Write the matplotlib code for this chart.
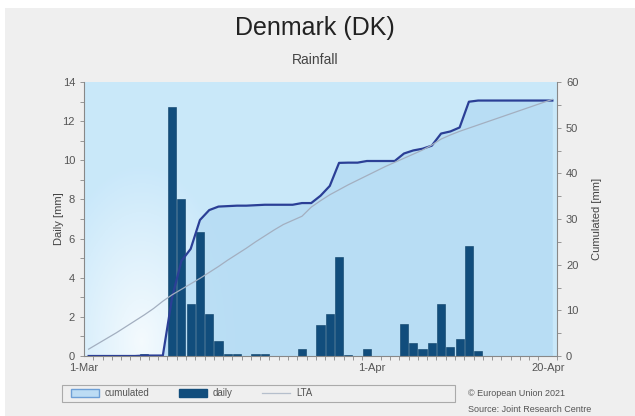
import numpy as np
import matplotlib.pyplot as plt
from matplotlib.patches import Patch, Rectangle
from matplotlib.lines import Line2D

plt.rcParams['font.family'] = ['Liberation Sans', 'DejaVu Sans']

# daily rainfall, 1-Mar .. 20-Apr (mm)
daily = [0, 0, 0, 0, 0, 0, 0.1, 0, 0, 12.7,
         8.0, 2.65, 6.33, 2.17, 0.77, 0.1, 0.1, 0, 0.1, 0.1,
         0, 0, 0, 0.37, 0, 1.6, 2.15, 5.05, 0.05, 0,
         0.36, 0, 0, 0, 1.64, 0.67, 0.38, 0.67, 2.65, 0.46,
         0.87, 5.64, 0.26, 0, 0, 0, 0, 0, 0, 0,
         0]
# long term average, cumulated (mm)
lta = [1.5, 2.7, 3.9, 5.1, 6.4, 7.7, 9.0, 10.4, 12.0, 13.4,
       14.6, 15.8, 17.0, 18.3, 19.6, 21.0, 22.3, 23.6, 25.0, 26.3,
       27.6, 28.8, 29.7, 30.6, 32.6, 34.0, 35.3, 36.4, 37.5, 38.5,
       39.5, 40.5, 41.5, 42.4, 43.3, 44.2, 45.1, 46.2, 47.5, 48.4,
       49.2, 49.9, 50.6, 51.3, 52.0, 52.7, 53.4, 54.1, 54.8, 55.5,
       56.2]
tick_days = [0, 31, 50]
tick_labels = ['1-Mar', '1-Apr', '20-Apr']

days = np.arange(len(daily))
xc = days + 0.5
cumulated = np.cumsum(daily)

fig = plt.figure(figsize=(6.35, 4.16), dpi=100)
fig.patch.set_facecolor('white')
fig.patches.append(Rectangle((5 / 635, 0), 1, 1 - 8 / 416, transform=fig.transFigure,
                             facecolor='#efefef', edgecolor='none', zorder=-10))

rect = [84 / 635, 1 - 356 / 416, (557 - 84) / 635, (356 - 82) / 416]
axb = fig.add_axes(rect)   # background + cumulated fill
ax = fig.add_axes(rect)    # daily bars
axl = fig.add_axes(rect)   # lines + right axis
axb.set_zorder(1)
ax.set_zorder(2)
axl.set_zorder(3)
ax.patch.set_visible(False)
axl.patch.set_visible(False)

xmax = 51
# background gradient: whitish bottom-left, light blue elsewhere
gx, gy = np.meshgrid(np.linspace(0, 1, 200), np.linspace(0, 1, 200))
w = np.clip(1 - np.sqrt(((gx - 0.12) / 0.2) ** 2 + ((gy - 0.05) / 0.65) ** 2), 0, 1) * 0.8
blue = np.array([0.79, 0.91, 0.98])
img = blue[None, None, :] * (1 - w[..., None]) + np.array([1, 1, 1])[None, None, :] * w[..., None]
axb.imshow(img, extent=[0, xmax, 0, 60], origin='lower', aspect='auto', zorder=0)
axb.fill_between(xc, 0, cumulated, color='#b6dcf4', alpha=0.85, lw=0, zorder=1)
axb.set_xlim(0, xmax)
axb.set_ylim(0, 60)
axb.axis('off')

ax.bar(xc, daily, width=0.88, color='#114d7c', edgecolor='#0b3e66', lw=0.4)
ax.set_xlim(0, xmax)
ax.set_ylim(0, 14)
ax.set_yticks(range(0, 15, 2))
ax.set_yticks(range(0, 15), minor=True)
ax.set_xticks(tick_days)
ax.set_xticklabels(tick_labels)
ax.set_xticks(range(0, xmax + 1), minor=True)
ax.set_ylabel('Daily [mm]', fontsize=8, color='#444444', labelpad=-1)
for s in ['top', 'right']:
    ax.spines[s].set_visible(False)
for s in ['left', 'bottom']:
    ax.spines[s].set_color('#888888')
ax.tick_params(axis='both', which='both', colors='#888888', labelcolor='#555555',
               labelsize=8, length=3, width=0.6)
ax.tick_params(axis='x', which='major', length=0, pad=5)

axl.plot(xc, cumulated, color='#2b3f96', lw=1.6, zorder=3)
axl.plot(xc, lta, color='#a3afc0', lw=0.9, zorder=4)
axl.set_xlim(0, xmax)
axl.set_ylim(0, 60)
axl.xaxis.set_visible(False)
axl.yaxis.tick_right()
axl.yaxis.set_label_position('right')
axl.set_yticks(range(0, 61, 10))
axl.set_yticks(range(0, 61, 5), minor=True)
axl.set_ylabel('Cumulated [mm]', fontsize=8, color='#444444', labelpad=10)
for s in ['top', 'left', 'bottom']:
    axl.spines[s].set_visible(False)
axl.spines['right'].set_color('#888888')
axl.tick_params(axis='y', which='both', colors='#888888', labelcolor='#555555',
                labelsize=8, length=3, width=0.6)

fig.text(315 / 635, 1 - 28 / 416, 'Denmark (DK)', ha='center', va='center',
         fontsize=18, color='#222222')
fig.text(315 / 635, 1 - 60 / 416, 'Rainfall', ha='center', va='center',
         fontsize=10, color='#444444')

# legend frame drawn separately so it can be wider than its entries
fig.patches.append(Rectangle((62 / 635, 1 - 402 / 416), (455 - 62) / 635, 17 / 416,
                             transform=fig.transFigure, facecolor='#efefef',
                             edgecolor='#aaaaaa', lw=0.8, zorder=1))
handles = [Patch(facecolor='#bcdcf4', edgecolor='#6d9fd6', lw=1),
           Patch(facecolor='#114d7c', edgecolor='#114d7c'),
           Line2D([], [], color='#b5bfcc', lw=0.9)]
leg = fig.legend(handles, ['cumulated', 'daily', 'LTA'], ncol=3,
                 loc='center left', bbox_to_anchor=(64 / 635, 1 - 393.5 / 416),
                 fontsize=7, frameon=False, handlelength=2.9, handletextpad=0.6,
                 handleheight=0.8, columnspacing=3.0, borderpad=0.2)
for t in leg.get_texts():
    t.set_color('#555555')

fig.text(468 / 635, 1 - 393 / 416, '\u00a9 European Union 2021', ha='left', va='center',
         fontsize=6.5, color='#555555')
fig.text(468 / 635, 1 - 409 / 416, 'Source: Joint Research Centre', ha='left', va='center',
         fontsize=6.5, color='#555555')

fig.savefig('out.png', dpi=100)
